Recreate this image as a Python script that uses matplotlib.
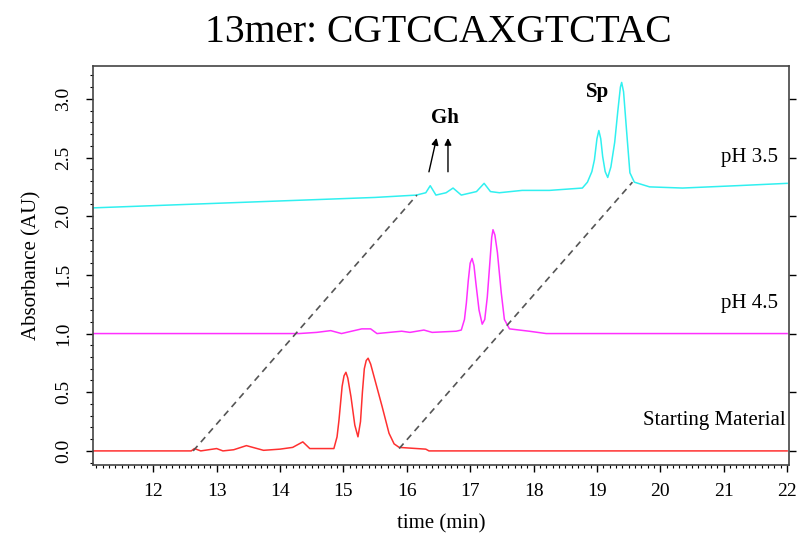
import numpy as np
import matplotlib
matplotlib.use("Agg")
import matplotlib.pyplot as plt
from matplotlib.ticker import MultipleLocator

plt.rcParams['font.family'] = ['Liberation Serif', 'DejaVu Serif']

# traces (time in min, absorbance in AU)
red_t = [11.0, 12.6, 12.65, 12.75, 13.0, 13.1, 13.27, 13.47, 13.74, 14.0, 14.2,
         14.36, 14.47, 14.85, 14.9, 14.93, 14.98, 15.01, 15.04, 15.07, 15.12,
         15.18, 15.23, 15.27, 15.3, 15.33, 15.36, 15.39, 15.43, 15.51, 15.61,
         15.72, 15.8, 15.88, 16.3, 16.35, 22.0]
red_v = [0.0, 0.0, 0.02, 0.0, 0.02, 0.0, 0.01, 0.045, 0.005, 0.015, 0.03,
         0.077, 0.02, 0.02, 0.12, 0.26, 0.55, 0.64, 0.67, 0.62, 0.46,
         0.22, 0.12, 0.25, 0.5, 0.7, 0.77, 0.79, 0.74, 0.58, 0.38,
         0.15, 0.06, 0.03, 0.015, 0.0, 0.0]

mag_t = [11.0, 14.3, 14.58, 14.8, 14.97, 15.29, 15.43, 15.53, 15.92, 16.05,
         16.27, 16.4, 16.78, 16.86, 16.91, 16.94, 16.97, 17.0, 17.03, 17.06,
         17.09, 17.14, 17.19, 17.23, 17.27, 17.31, 17.34, 17.36, 17.39, 17.43,
         17.49, 17.54, 17.62, 17.93, 18.2, 22.0]
mag_v = [1.0, 1.0, 1.01, 1.025, 1.0, 1.04, 1.04, 1.0, 1.02, 1.01,
         1.03, 1.01, 1.02, 1.03, 1.12, 1.26, 1.45, 1.6, 1.64, 1.58,
         1.43, 1.2, 1.08, 1.12, 1.31, 1.6, 1.82, 1.885, 1.84, 1.69,
         1.35, 1.12, 1.04, 1.02, 1.0, 1.0]

cyan_t = [11.0, 12.5, 14.0, 15.5, 16.15, 16.3, 16.37, 16.46, 16.62, 16.73,
          16.86, 17.1, 17.22, 17.32, 17.46, 17.82, 18.25, 18.77, 18.85, 18.92,
          18.96, 19.0, 19.03, 19.06, 19.09, 19.13, 19.17, 19.22, 19.28, 19.33,
          19.37, 19.39, 19.42, 19.47, 19.52, 19.59, 19.83, 20.35, 21.2, 22.0]
cyan_v = [2.07, 2.1, 2.13, 2.16, 2.18, 2.2, 2.26, 2.18, 2.2, 2.24,
          2.18, 2.21, 2.28, 2.21, 2.2, 2.22, 2.22, 2.24, 2.29, 2.38,
          2.48, 2.66, 2.73, 2.66, 2.51, 2.38, 2.33, 2.42, 2.63, 2.9,
          3.1, 3.14, 3.06, 2.71, 2.37, 2.29, 2.25, 2.24, 2.26, 2.28]

# dashed guides linking the starting material to the pH 3.5 products
guide_left_t = [12.63, 16.16]
guide_left_v = [0.0, 2.18]
guide_right_t = [15.88, 19.56]
guide_right_v = [0.02, 2.29]

fig = plt.figure(figsize=(7.99, 5.41), dpi=100)
ax = fig.add_axes([0.1164, 0.1405, 0.8711, 0.7375])

ax.plot(red_t, red_v, color='#ff3030', lw=1.1)
ax.plot(mag_t, mag_v, color='#ff30ff', lw=1.1)
ax.plot(cyan_t, cyan_v, color='#30f0f0', lw=1.1)
ax.plot(guide_left_t, guide_left_v, color='#555555', lw=1.2, ls=(0, (4, 3)))
ax.plot(guide_right_t, guide_right_v, color='#555555', lw=1.2, ls=(0, (4, 3)))

# Gh arrows
ax.annotate('', xy=(16.48, 2.69), xytext=(16.34, 2.355),
            arrowprops=dict(arrowstyle='-|>', color='black', lw=1.0,
                            mutation_scale=10))
ax.annotate('', xy=(16.65, 2.69), xytext=(16.65, 2.355),
            arrowprops=dict(arrowstyle='-|>', color='black', lw=1.0,
                            mutation_scale=10))
ax.text(16.6, 2.84, 'Gh', fontsize=15, fontweight='bold', ha='center', va='center')
ax.text(19.01, 3.06, 'Sp', fontsize=15, fontweight='bold', ha='center', va='center')

ax.text(21.85, 2.5, 'pH 3.5', fontsize=15, ha='right', va='center')
ax.text(21.85, 1.26, 'pH 4.5', fontsize=15, ha='right', va='center')
ax.text(21.98, 0.26, 'Starting Material', fontsize=15, ha='right', va='center')

ax.set_xlim(11.05, 22.03)
ax.set_ylim(-0.12, 3.28)

ax.xaxis.set_major_locator(MultipleLocator(1))
ax.xaxis.set_minor_locator(MultipleLocator(0.1))
ax.yaxis.set_minor_locator(MultipleLocator(0.1))
ax.tick_params(axis='both', which='major', direction='out', length=5, width=1,
               labelsize=14, top=False, right=True)
ax.tick_params(axis='both', which='minor', direction='out', length=2.5, width=0.8,
               top=False, right=False)
ax.tick_params(axis='x', pad=8)
ax.tick_params(axis='y', pad=10)
ax.set_yticks(np.arange(0, 3.01, 0.5))
ax.set_yticklabels(['0.0', '0.5', '1.0', '1.5', '2.0', '2.5', '3.0'],
                   rotation=90, va='center', fontsize=14)

for sp in ax.spines.values():
    sp.set_color('#444444')
    sp.set_linewidth(1.2)

ax.set_xlabel('time (min)', fontsize=15, labelpad=10)
ax.set_ylabel('Absorbance (AU)', fontsize=15, labelpad=10)
fig.text(0.549, 0.94, '13mer: CGTCCAXGTCTAC', fontsize=28.5, ha='center', va='center')

fig.savefig('out.png', dpi=100)
